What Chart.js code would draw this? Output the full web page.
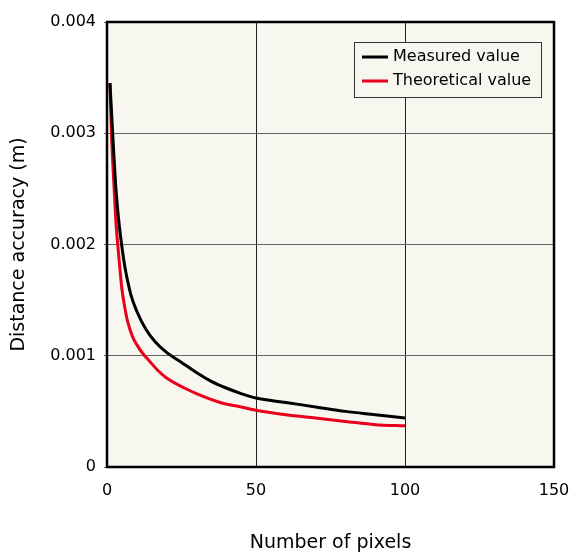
<!DOCTYPE html>
<html>
<head>
<meta charset="utf-8">
<script src="https://cdn.jsdelivr.net/npm/chart.js@4"></script>
<style>
  body { margin: 0; background: #ffffff; }
  #wrap { width: 571px; height: 554px; }
</style>
</head>
<body>
<div id="wrap"><canvas id="chart" width="571" height="554"></canvas></div>
<script>
// values
var measuredX = [1, 2, 3, 4, 5, 6, 8, 10, 13, 16, 20, 25, 30, 35, 40, 45, 50, 60, 70, 80, 90, 100];
var measuredY = [0.00345, 0.00295, 0.0025, 0.0022, 0.00198, 0.0018, 0.00155, 0.0014, 0.00124, 0.00113, 0.00103,
  0.00094, 0.00085, 0.00077, 0.00071, 0.00066, 0.00062, 0.00058, 0.00054, 0.0005, 0.00047, 0.00044];
var theoreticalX = [1, 1.5, 2, 3, 3.6, 4, 5, 6, 7, 8.6, 10, 12, 14, 17, 20, 26, 30, 38, 45, 50, 60, 70, 80, 90, 100];
var theoreticalY = [0.00345, 0.003, 0.0027, 0.0022, 0.002, 0.00188, 0.0016, 0.00143, 0.0013, 0.00117, 0.0011, 0.00102,
  0.00096, 0.00087, 0.0008, 0.00071, 0.00066, 0.00058, 0.00054, 0.00051, 0.00047, 0.00044, 0.00041, 0.00038, 0.00037];
var xTicks = [0, 50, 100, 150];
var yTicks = [0, 0.001, 0.002, 0.003, 0.004];
var seriesNames = ['Measured value', 'Theoretical value'];
var seriesColors = ['#000000', '#e8001c'];

function toPoints(xs, ys) {
  return xs.map(function (x, i) { return { x: x, y: ys[i] }; });
}

var fontFamily = '"DejaVu Sans", Verdana, sans-serif';

// plot background and frame
var bgPlugin = {
  id: 'plotBg',
  beforeDraw: function (chart) {
    var a = chart.chartArea, ctx = chart.ctx;
    ctx.save();
    ctx.fillStyle = '#f7f6ef';
    ctx.fillRect(a.left, a.top, a.right - a.left, a.bottom - a.top);
    ctx.restore();
  },
  afterDatasetsDraw: function (chart) {
    var a = chart.chartArea, ctx = chart.ctx;
    ctx.save();
    ctx.strokeStyle = '#000';
    ctx.lineWidth = 2.5;
    ctx.strokeRect(a.left, a.top, a.right - a.left, a.bottom - a.top);
    ctx.restore();
  }
};

// legend box in the upper right corner of the plot
var legendPlugin = {
  id: 'boxLegend',
  afterDraw: function (chart) {
    var ctx = chart.ctx, a = chart.chartArea;
    var x0 = a.right - 200, y0 = a.top + 20, w = 187, h = 55;
    ctx.save();
    ctx.fillStyle = '#f7f6ef';
    ctx.fillRect(x0, y0, w, h);
    ctx.strokeStyle = '#333';
    ctx.lineWidth = 1;
    ctx.strokeRect(x0 + 0.5, y0 + 0.5, w, h);
    ctx.font = '16px ' + fontFamily;
    ctx.textBaseline = 'middle';
    chart.data.datasets.forEach(function (ds, i) {
      var yy = y0 + 15 + i * 24;
      ctx.strokeStyle = ds.borderColor;
      ctx.lineWidth = 3;
      ctx.beginPath();
      ctx.moveTo(x0 + 8, yy);
      ctx.lineTo(x0 + 34, yy);
      ctx.stroke();
      ctx.fillStyle = '#000';
      ctx.fillText(ds.label, x0 + 39, yy);
    });
    ctx.restore();
  }
};

var ctx = document.getElementById('chart').getContext('2d');
var chart = new Chart(ctx, {
  type: 'scatter',
  data: {
    datasets: [
      {
        label: seriesNames[0],
        data: toPoints(measuredX, measuredY),
        borderColor: seriesColors[0],
        backgroundColor: seriesColors[0],
        showLine: true,
        borderWidth: 3,
        pointRadius: 0,
        cubicInterpolationMode: 'monotone'
      },
      {
        label: seriesNames[1],
        data: toPoints(theoreticalX, theoreticalY),
        borderColor: seriesColors[1],
        backgroundColor: seriesColors[1],
        showLine: true,
        borderWidth: 3,
        pointRadius: 0,
        cubicInterpolationMode: 'monotone'
      }
    ]
  },
  options: {
    responsive: false,
    animation: false,
    layout: { padding: { left: 0, right: 17, top: 22, bottom: 0 } },
    plugins: {
      legend: { display: false },
      tooltip: { enabled: false }
    },
    scales: {
      x: {
        type: 'linear',
        min: 0,
        max: 150,
        afterBuildTicks: function (scale) {
          scale.ticks = xTicks.map(function (v) { return { value: v }; });
        },
        afterFit: function (scale) {
          scale.height = 87;
          scale.paddingLeft = 0;
          scale.paddingRight = 0;
        },
        grid: { color: '#222', lineWidth: 1, drawTicks: false },
        border: { display: false },
        ticks: {
          padding: 14,
          color: '#000',
          font: { family: fontFamily, size: 16 },
          maxRotation: 0
        },
        title: {
          display: true,
          text: 'Number of pixels',
          color: '#000',
          font: { family: fontFamily, size: 19 },
          padding: { top: 30, bottom: 0 }
        }
      },
      y: {
        type: 'linear',
        min: 0,
        max: 0.004,
        afterBuildTicks: function (scale) {
          scale.ticks = yTicks.map(function (v) { return { value: v }; });
        },
        afterFit: function (scale) {
          scale.width = 107;
          scale.paddingTop = 0;
          scale.paddingBottom = 0;
        },
        grid: { color: '#666', lineWidth: 1, drawTicks: true, tickLength: 3 },
        border: { display: false },
        ticks: {
          padding: 8,
          color: '#000',
          font: { family: fontFamily, size: 16 },
          callback: function (v) { return v === 0 ? '0' : v.toFixed(3); }
        },
        title: {
          display: true,
          text: 'Distance accuracy (m)',
          color: '#000',
          font: { family: fontFamily, size: 19 },
          padding: { top: 8, bottom: 0 }
        }
      }
    }
  },
  plugins: [bgPlugin, legendPlugin]
});
</script>
</body>
</html>
